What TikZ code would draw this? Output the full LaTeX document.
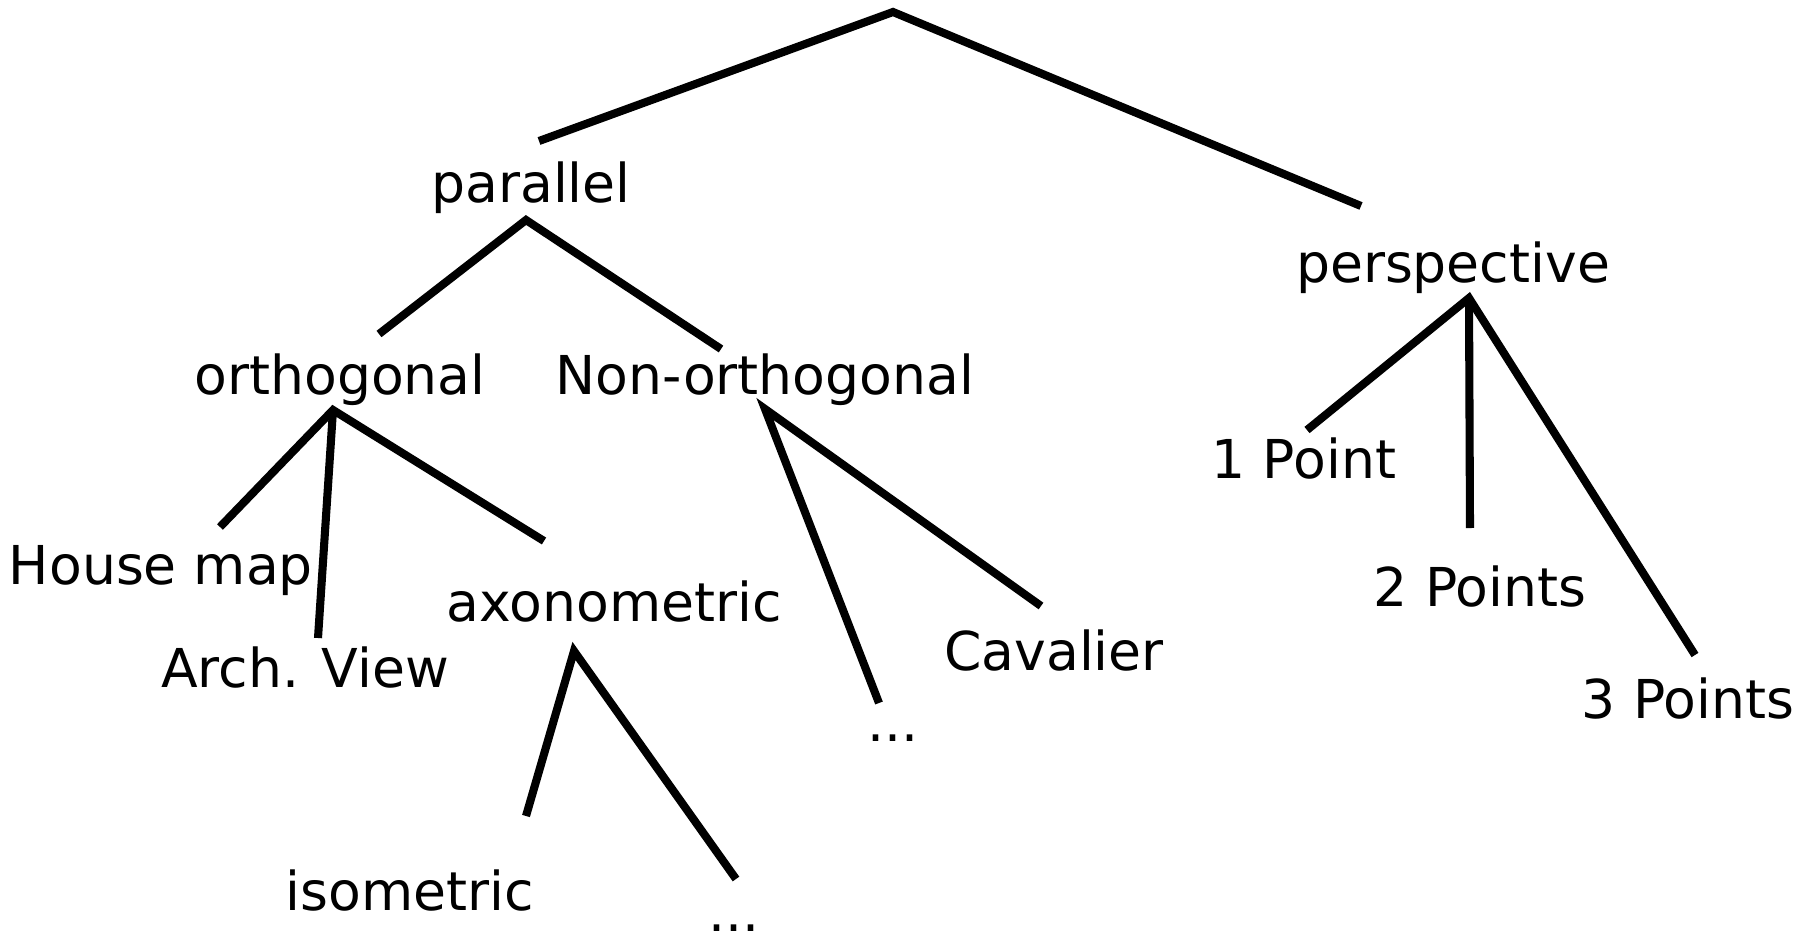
\documentclass[tikz,border=0pt]{standalone}
\usepackage{fontspec}
\setmainfont{DejaVu Sans}
\usepackage{tikz}
\usetikzlibrary{positioning}

\begin{document}
\begin{tikzpicture}[x=0.02cm, y=-0.02cm]
    \tikzstyle{word} = [inner sep=0pt, font=\fontsize{30.5}{36}\selectfont]
    \tikzstyle{line} = [draw, line width=4.6pt]

    \useasboundingbox (0,0) rectangle (1812,943);

    % texts
    \node [word] (par) at (531,188) {parallel};
    \node [word] (per) at (1453,268) {perspective};
    \node [word] (orth) at (340,380) {orthogonal};
    \node [word] (non) at (765,380) {Non-orthogonal};
    \node [word] (house) at (161,571) {House map};
    \node [word] (arch) at (305,668) {Arch. View};
    \node [word] (axo) at (614,602) {axonometric};
    \node [word] (iso) at (410,891) {isometric};
    \node [word] (dotsA) at (734,928) {...};
    \node [word] (dotsB) at (893,738) {...};
    \node [word] (cav) at (1054,651) {Cavalier};
    \node [word] (one) at (1304,459) {1 Point};
    \node [word] (two) at (1480,587) {2 Points};
    \node [word] (three) at (1688,699) {3 Points};

    % branch points and line ends
    \coordinate (root) at (893,12);
    \coordinate (parTop) at (539,141);
    \coordinate (perTop) at (1361,206);
    \coordinate (parFork) at (526,220);
    \coordinate (orthTop) at (379,334);
    \coordinate (nonTop) at (721,349);
    \coordinate (orthFork) at (333,410);
    \coordinate (houseTop) at (220,527);
    \coordinate (archTop) at (318,638);
    \coordinate (axoTop) at (544,541);
    \coordinate (axoFork) at (574,651);
    \coordinate (isoTop) at (526,816);
    \coordinate (dotsATop) at (736,879);
    \coordinate (nonFork) at (765,409);
    \coordinate (dotsBTop) at (879,703);
    \coordinate (cavTop) at (1041,606);
    \coordinate (perFork) at (1469,298);
    \coordinate (oneTop) at (1307,430);
    \coordinate (twoTop) at (1470,528);
    \coordinate (threeTop) at (1695,655);

    \path [line] (parTop) -- (root) -- (perTop);
    \path [line] (orthTop) -- (parFork) -- (nonTop);
    \path [line] (houseTop) -- (orthFork) -- (axoTop);
    \path [line] (orthFork) -- (archTop);
    \path [line] (isoTop) -- (axoFork) -- (dotsATop);
    \path [line] (dotsBTop) -- (nonFork) -- (cavTop);
    \path [line] (oneTop) -- (perFork) -- (threeTop);
    \path [line] (perFork) -- (twoTop);
\end{tikzpicture}
\end{document}
